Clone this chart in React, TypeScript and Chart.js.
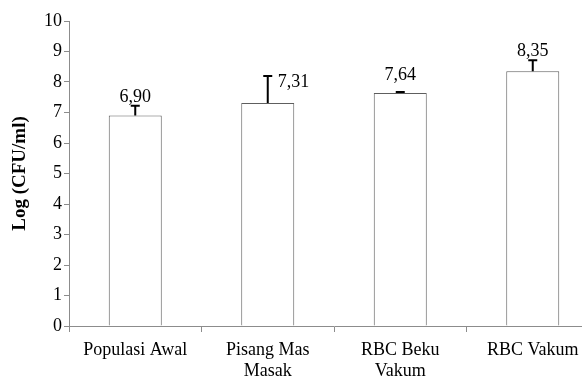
import React, { useEffect, useRef } from "react";
import { Chart, registerables } from "chart.js";

Chart.register(...registerables);

const categories: string[][] = [["Populasi Awal"], ["Pisang Mas", "Masak"], ["RBC Beku", "Vakum"], ["RBC Vakum"]];
const means: number[] = [6.9, 7.31, 7.64, 8.35];
const errors: number[] = [0.32, 0.89, 0.03, 0.36];
const valueLabels: string[] = ["6,90", "7,31", "7,64", "8,35"];
const yMin = 0;
const yMax = 10;
const yStep = 1;

const FONT = '"Liberation Serif", "Times New Roman", serif';

const errorBarPlugin = {
  id: "errorBars",
  afterDatasetsDraw(chart: any) {
    const ctx = chart.ctx as CanvasRenderingContext2D;
    const meta = chart.getDatasetMeta(0);
    const yScale = chart.scales.y;
    ctx.save();
    meta.data.forEach((bar: any, i: number) => {
      const x = bar.x;
      const top = bar.y;
      const capY = yScale.getPixelForValue(means[i] + errors[i]);
      ctx.strokeStyle = "#000";
      ctx.lineWidth = 2;
      ctx.beginPath();
      ctx.moveTo(x, top);
      ctx.lineTo(x, capY);
      ctx.moveTo(x - 4.5, capY);
      ctx.lineTo(x + 4.5, capY);
      ctx.stroke();
      ctx.font = `18px ${FONT}`;
      ctx.fillStyle = "#000";
      if (errors[i] > 0.5) {
        ctx.textAlign = "left";
        ctx.textBaseline = "middle";
        ctx.fillText(valueLabels[i], x + 10, capY + 6);
      } else {
        ctx.textAlign = "center";
        ctx.textBaseline = "alphabetic";
        ctx.fillText(valueLabels[i], x, Math.min(top - 13, capY - 4));
      }
    });
    ctx.restore();
  },
};

export default function App() {
  const ref = useRef<HTMLCanvasElement>(null);
  useEffect(() => {
    if (!ref.current) return;
    const chart = new Chart(ref.current, {
      type: "bar",
      data: {
        labels: categories as any,
        datasets: [
          {
            data: means,
            backgroundColor: "#ffffff",
            borderColor: "#5e5e5e",
            borderWidth: 1,
            categoryPercentage: 1,
            barPercentage: 0.4,
          },
        ],
      },
      options: {
        responsive: false,
        animation: false,
        devicePixelRatio: 1,
        layout: { padding: { top: 21, right: 1, bottom: 0, left: 0 } },
        plugins: { legend: { display: false }, tooltip: { enabled: false } },
        scales: {
          x: {
            offset: true,
            grid: { offset: true, drawOnChartArea: false, tickLength: 6, color: "#8c8c8c" },
            border: { color: "#8c8c8c", width: 1 },
            ticks: { color: "#000", font: { family: FONT, size: 18, lineHeight: 1.15 }, padding: 8, maxRotation: 0, autoSkip: false },
            afterFit(scale: any) {
              scale.height = 55;
            },
          },
          y: {
            min: yMin,
            max: yMax,
            grid: { drawOnChartArea: false, tickLength: 5, color: "#8c8c8c" },
            border: { color: "#8c8c8c", width: 1 },
            ticks: { stepSize: yStep, color: "#000", font: { family: FONT, size: 18 }, padding: 2 },
            title: {
              display: true,
              text: "Log (CFU/ml)",
              color: "#000",
              font: { family: FONT, size: 19, weight: "bold" },
              padding: { top: 9, bottom: 4 },
            },
            afterFit(scale: any) {
              scale.width = 69;
            },
          },
        },
      } as any,
      plugins: [errorBarPlugin],
    });
    return () => chart.destroy();
  }, []);
  return (
    <div style={{ position: "fixed", left: 0, top: 0, width: 582, height: 381, overflow: "hidden", background: "#fff" }}>
      <canvas ref={ref} width={600} height={381} />
    </div>
  );
}
